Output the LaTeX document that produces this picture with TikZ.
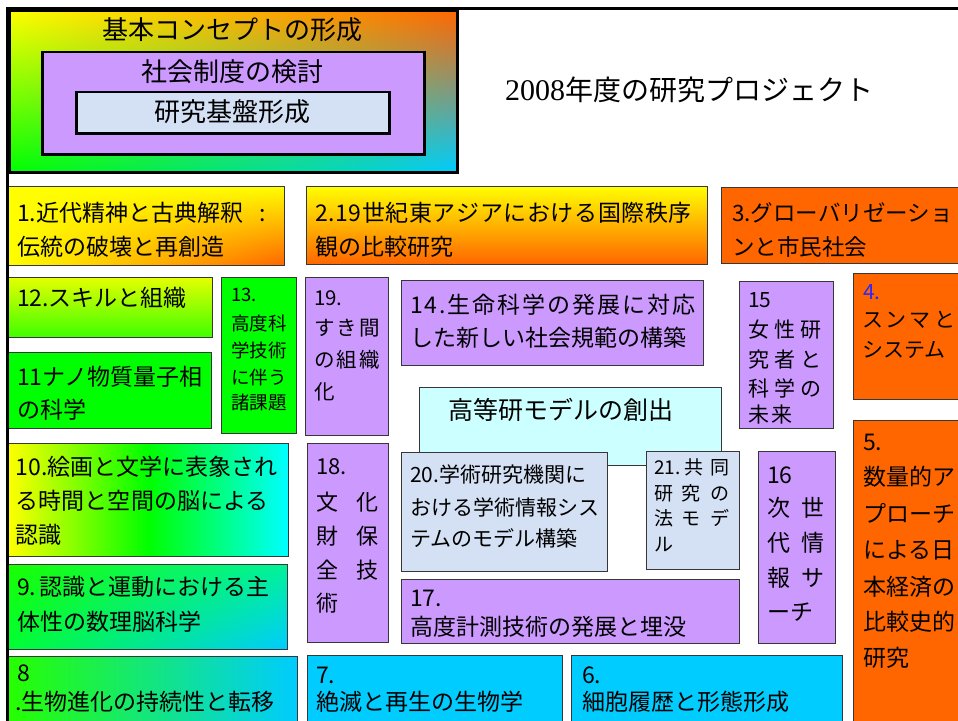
\documentclass[tikz,border=0pt]{standalone}
\usepackage{fontspec}
\setmainfont{Noto Sans CJK JP}
\newfontfamily\serifnum{Liberation Serif}
\definecolor{orng}{RGB}{255,102,0}
\definecolor{purp}{RGB}{204,153,255}
\definecolor{cyn}{RGB}{0,204,255}
\definecolor{cyanfull}{RGB}{0,255,255}
\definecolor{lcyan}{RGB}{204,255,255}
\definecolor{texblue}{RGB}{212,224,244}
\definecolor{grn}{RGB}{0,255,0}
\definecolor{ylw}{RGB}{255,255,0}
\definecolor{bordr}{RGB}{55,55,55}
\definecolor{numblue}{RGB}{40,40,255}
\newcommand\chan[4]{1 index #2 #1 sub mul 1 index #3 #1 sub mul add 2 index 2 index mul #4 #3 sub #2 sub #1 add mul add #1 add 3 1 roll }
% corners: BL BR TL TR per channel
\pgfdeclarefunctionalshading{topsh}{\pgfpoint{0bp}{0bp}}{\pgfpoint{100bp}{100bp}}{}{25 sub 50 div exch 25 sub 50 div exch \chan{0}{0}{1}{1}\chan{1}{0.8}{1}{0.4}\chan{0}{1}{0}{0}pop pop}
\pgfdeclarefunctionalshading{onesh}{\pgfpoint{0bp}{0bp}}{\pgfpoint{100bp}{100bp}}{}{25 sub 50 div exch 25 sub 50 div exch \chan{1}{1}{1}{1}\chan{1}{0.4}{1}{1}\chan{0}{0}{0}{0}pop pop}
\pgfdeclarefunctionalshading{ninesh}{\pgfpoint{0bp}{0bp}}{\pgfpoint{100bp}{100bp}}{}{25 sub 50 div exch 25 sub 50 div exch \chan{0}{0}{0.1}{0}\chan{1}{0.8}{1}{0.95}\chan{0.2}{1}{0}{0.6}pop pop}
\pgfdeclarehorizontalshading{tensh}{100bp}{color(0bp)=(ylw); color(25bp)=(ylw); color(50bp)=(grn); color(75bp)=(cyanfull); color(100bp)=(cyanfull)}
\newcommand\fs[1]{\fontsize{#1pt}{#1pt}\selectfont}
\makeatletter
\def\spreadit#1#2{\def\sp@gap{\hspace*{#1}}\sp@loop#2\relax}
\def\sp@loop#1{\ifx\relax#1\else#1\sp@gap\expandafter\sp@loop\fi}
\makeatother
\newcommand\gp[1]{\hspace*{#1pt}}
\tikzset{
  x=1pt, y=-1pt,
  bx/.style={draw=bordr, line width=0.8pt, inner sep=0pt, outer sep=0pt},
  tx/.style={anchor=west, inner sep=0pt, outer sep=0pt, text=black},
  ctx/.style={anchor=center, inner sep=0pt, outer sep=0pt, text=black},
}
\newcommand\bx[6]{\node[bx,#6,minimum width=#4pt-#2pt,minimum height=#5pt-#3pt,anchor=north west] (#1) at (#2,#3) {};}
\newcommand\tl[5]{\node[tx,font=\fs{#2}] (#1) at (#3,#4) {#5};}
\begin{document}
\begin{tikzpicture}
\useasboundingbox (0,0) rectangle (958,720);
\clip (0,0) rectangle (958,720);
\fill[white] (0,0) rectangle (958,720);
% ---- boxes
\bx{b1}{8}{186}{284}{265}{shading=onesh}
\bx{b2}{306}{186}{707}{264}{top color=ylw,bottom color=orng}
\bx{b3}{721}{187}{975}{263}{fill=orng}
\bx{b12}{8}{277}{212}{337}{top color={rgb,1:red,0.9;green,1;blue,0},bottom color={rgb,1:red,0.25;green,1;blue,0}}
\bx{b11}{8}{352}{211}{428}{fill=grn}
\bx{b13}{221}{277}{296}{433}{fill=grn}
\bx{b19}{305}{277}{388}{435}{fill=purp}
\bx{b14}{401}{280}{703}{365}{fill=purp}
\bx{b15}{739}{281}{833}{428}{fill=purp}
\bx{b4}{853}{273}{975}{399}{fill=orng}
\bx{hk}{419}{387}{721}{465}{fill=lcyan}
\bx{b5}{853}{420}{975}{735}{fill=orng}
\bx{b10}{8}{443}{288}{556}{shading=tensh}
\bx{b9}{8}{564}{287}{649}{shading=ninesh}
\bx{b8}{8}{656}{297}{735}{left color={rgb,1:red,0.15;green,1;blue,0},right color=cyn}
\bx{b18}{307}{443}{388}{642}{fill=purp}
\bx{b20}{401}{452}{607}{571}{fill=texblue}
\bx{b21}{646}{451}{739}{569}{fill=texblue}
\bx{b16}{758}{451}{835}{643}{fill=purp}
\bx{b17}{401}{579}{739}{643}{fill=purp}
\bx{b7}{307}{655}{562}{735}{fill=cyn}
\bx{b6}{571}{655}{842}{735}{fill=cyn}
% ---- page frame
\draw[line width=3pt, black] (7.5,725) -- (7.5,8.5) -- (965,8.5);
% ---- concept box
\node[draw=black, line width=3pt, shading=topsh, inner sep=0pt, minimum width=448.5pt, minimum height=162pt, anchor=north west] (concept) at (7.5,8.5) {};
\node[draw=black, line width=2.5pt, fill=purp, inner sep=0pt, minimum width=381.7pt, minimum height=102.3pt, anchor=north west] (social) at (41.3,50.7) {};
\node[draw=black, line width=2.5pt, fill=texblue, inner sep=0pt, minimum width=312.7pt, minimum height=41.3pt, anchor=north west] (base) at (75.3,90.7) {};
\node[ctx, font=\fs{26}] (t0) at (232,30) {基本コンセプトの形成};
\node[ctx, font=\fs{26}] (t1) at (232,72) {社会制度の検討};
\node[ctx, font=\fs{26}] (t2) at (232,112) {研究基盤形成};
% ---- title
\node[tx, font=\fs{28}] (title) at (505,90) {{\serifnum\fs{30}2008}年度の研究プロジェクト};
% ---- texts
\tl{l1a}{23}{17}{213}{1.近代精神と古典解釈\gp{16}:}
\tl{l1b}{23}{17}{247}{伝統の破壊と再創造}
\tl{l2a}{23}{315}{213}{\spreadit{0.6pt}{2.19世紀東アジアにおける国際秩序}}
\tl{l2b}{23}{315}{247}{観の比較研究}
\tl{l3a}{22.5}{732}{213}{3.グローバリゼーショ}
\tl{l3b}{22.5}{732}{247}{ンと市民社会}
\tl{l12}{23}{17}{298}{12.スキルと組織}
\tl{l11a}{23}{17}{377}{11ナノ物質量子相}
\tl{l11b}{23}{17}{410}{の科学}
\tl{l13a}{18.5}{231}{295}{13.}
\tl{l13b}{18.5}{231}{323}{高度科}
\tl{l13c}{18.5}{231}{350}{学技術}
\tl{l13d}{18.5}{231}{377}{に伴う}
\tl{l13e}{18.5}{231}{402}{諸課題}
\tl{l19a}{20.5}{314}{298}{19.}
\tl{l19b}{20.5}{314}{328}{す\gp{2}き\gp{2}間}
\tl{l19c}{20.5}{314}{360}{の\gp{2}組\gp{2}織}
\tl{l19d}{20.5}{314}{392}{化}
\tl{l14a}{23}{410}{305}{\spreadit{2pt}{14.生命科学の発展に対応}}
\tl{l14b}{23}{410}{338}{した新しい社会規範の構築}
\tl{l15a}{21}{748}{300}{15}
\tl{l15b}{21}{748}{330}{女\gp{5}性\gp{5}研}
\tl{l15c}{21}{748}{360}{究\gp{5}者\gp{5}と}
\tl{l15d}{21}{748}{388}{科\gp{5}学\gp{5}の}
\tl{l15e}{21}{748}{415}{未\gp{2}来}
\tl{l4a}{21}{863}{292}{\color{numblue}4.}
\tl{l4b}{21}{862}{320}{ス\gp{3}ン\gp{3}マ\gp{3}と}
\tl{l4c}{21}{862}{350}{システム}
\node[ctx, font=\fs{25}] (lhk) at (561,410) {高等研モデルの創出};
\tl{l5a}{23}{863}{442}{5.}
\tl{l5b}{23}{863}{477}{数量的ア}
\tl{l5c}{23}{863}{513}{プローチ}
\tl{l5d}{23}{863}{550}{による日}
\tl{l5e}{23}{863}{587}{本経済の}
\tl{l5f}{23}{863}{622}{比較史的}
\tl{l5g}{23}{863}{658}{研究}
\tl{l10a}{23}{16}{467}{10.絵画と文学に表象され}
\tl{l10b}{23}{16}{501}{る時間と空間の脳による}
\tl{l10c}{23}{16}{535}{認識}
\tl{l9a}{23}{17}{587}{9.\gp{3}認識と運動における主}
\tl{l9b}{23}{17}{622}{体性の数理脳科学}
\tl{l8a}{23}{17}{673}{8}
\tl{l8b}{23}{15}{702}{.生物進化の持続性と転移}
\tl{l18a}{22}{316}{467}{18.}
\tl{l18b}{22}{316}{502}{文\gp{19}化}
\tl{l18c}{22}{316}{536}{財\gp{19}保}
\tl{l18d}{22}{316}{570}{全\gp{19}技}
\tl{l18e}{22}{316}{603}{術}
\tl{l20a}{21}{410}{475}{20.学術研究機関に}
\tl{l20b}{21}{410}{507}{おける学術情報シス}
\tl{l20c}{21}{410}{538}{テムのモデル構築}
\tl{l21a}{19}{654}{467}{21.\gp{4}共\gp{7}同}
\tl{l21b}{19}{654}{493}{研\gp{9}究\gp{9}の}
\tl{l21c}{19}{654}{518}{法\gp{9}モ\gp{9}デ}
\tl{l21d}{19}{654}{545}{ル}
\tl{l16a}{23}{767}{475}{16}
\tl{l16b}{23}{767}{508}{次\gp{12}世}
\tl{l16c}{23}{767}{543}{代\gp{12}情}
\tl{l16d}{23}{767}{578}{報\gp{12}サ}
\tl{l16e}{23}{767}{612}{ーチ}
\tl{l17a}{23}{410}{598}{17.}
\tl{l17b}{23}{410}{627}{高度計測技術の発展と埋没}
\tl{l7a}{23}{316}{675}{7.}
\tl{l7b}{23}{316}{702}{絶滅と再生の生物学}
\tl{l6a}{23}{582}{675}{6.}
\tl{l6b}{23}{582}{702}{細胞履歴と形態形成}
\end{tikzpicture}
\end{document}
